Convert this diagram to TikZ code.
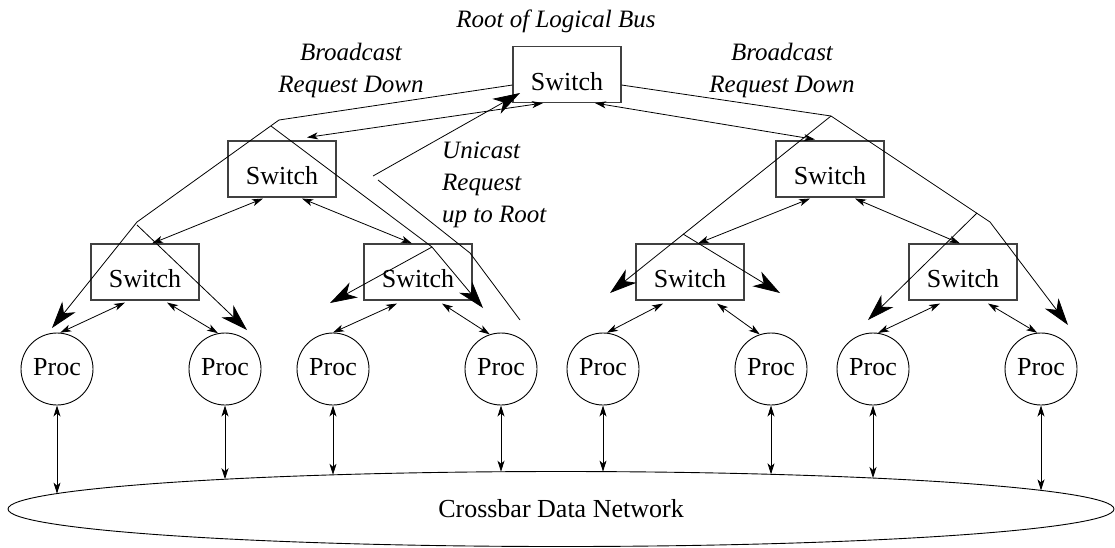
\documentclass[tikz,border=0pt]{standalone}
\usepackage{fontspec}
\setmainfont{Liberation Serif}
\usetikzlibrary{arrows.meta,calc,shapes.geometric}
\begin{document}
\begin{tikzpicture}[x=1pt,y=-1pt,
  sw/.style={draw=black!75,line width=1.1pt,minimum width=108pt,minimum height=56pt,inner sep=0pt,
    text height=31pt,text depth=0pt,font=\fontsize{26}{30}\selectfont},
  proc/.style={circle,draw,line width=0.9pt,minimum size=72pt,inner sep=0pt,
    text height=12pt,text depth=0pt,font=\fontsize{26}{30}\selectfont},
  lbl/.style={font=\fontsize{25}{32}\selectfont\itshape,inner sep=0pt},
  dbl/.style={line width=0.8pt,{Stealth[length=11pt,width=7pt,inset=3pt]}-{Stealth[length=11pt,width=7pt,inset=3pt]}},
  bcast/.style={line width=0.8pt,-{Stealth[length=27pt,width=17pt,inset=8pt]}},
  ln/.style={line width=0.8pt}
]
\useasboundingbox (0,0) rectangle (1115,547);

% switches
\node[sw] (root) at (567,74.5) {Switch};
\node[sw] (s2L) at (282,169) {Switch};
\node[sw] (s2R) at (830,169) {Switch};
\node[sw] (s3a) at (145,272) {Switch};
\node[sw] (s3b) at (418,272) {Switch};
\node[sw] (s3c) at (690,272) {Switch};
\node[sw] (s3d) at (963,272) {Switch};

% processors
\node[proc] (p1) at (57,369) {Proc};
\node[proc] (p2) at (225,369) {Proc};
\node[proc] (p3) at (333,369) {Proc};
\node[proc] (p4) at (501,369) {Proc};
\node[proc] (p5) at (603,369) {Proc};
\node[proc] (p6) at (771,369) {Proc};
\node[proc] (p7) at (873,369) {Proc};
\node[proc] (p8) at (1041,369) {Proc};

% crossbar
\node[ellipse,draw,line width=0.9pt,minimum width=1106pt,minimum height=75pt,inner sep=0pt,
  font=\fontsize{26}{30}\selectfont] (net) at (561,509) {Crossbar Data Network};

% labels
\node[lbl,anchor=base] (rootlbl) at (556,27) {Root of Logical Bus};
\node[lbl,anchor=base] (bl1) at (351,60) {Broadcast};
\node[lbl,anchor=base] (bl2) at (351,92) {Request Down};
\node[lbl,anchor=base] (br1) at (782,60) {Broadcast};
\node[lbl,anchor=base] (br2) at (782,92) {Request Down};
\node[lbl,anchor=base west] (u1) at (442,158) {Unicast};
\node[lbl,anchor=base west] (u2) at (442,190) {Request};
\node[lbl,anchor=base west] (u3) at (442,222) {up to Root};

% switch-to-switch links
\draw[dbl] ($(root.south)+(-24,0)$) -- ($(s2L.north)+(25,-3)$);
\draw[dbl] ($(root.south)+(28,0)$) -- ($(s2R.north)+(-15,-1)$);
\draw[dbl] ($(s2L.south)+(-19,1)$) -- ($(s3a.north)+(7,0)$);
\draw[dbl] ($(s2L.south)+(20,1)$) -- ($(s3b.north)+(-6,0)$);
\draw[dbl] ($(s2R.south)+(-20,1)$) -- ($(s3c.north)+(8,0)$);
\draw[dbl] ($(s2R.south)+(25,1)$) -- ($(s3d.north)+(-3,0)$);

% switch-to-proc links
\draw[dbl] ($(s3a.south)+(-20,2)$) -- (p1.85);
\draw[dbl] ($(s3a.south)+(22,2)$) -- (p2.101);
\draw[dbl] ($(s3b.south)+(-21,3)$) -- (p3.90);
\draw[dbl] ($(s3b.south)+(24,3)$) -- (p4.108);
\draw[dbl] ($(s3c.south)+(-27,3)$) -- (p5.84);
\draw[dbl] ($(s3c.south)+(27,3)$) -- (p6.108);
\draw[dbl] ($(s3d.south)+(-23,3)$) -- (p7.82);
\draw[dbl] ($(s3d.south)+(25,3)$) -- (p8.96);

% proc-to-crossbar links
\draw[dbl] (p1.south) -- ($(net.center)+(-504,-15.4)$);
\draw[dbl] (p2.south) -- ($(net.center)+(-336,-29.8)$);
\draw[dbl] (p3.south) -- ($(net.center)+(-228,-34.2)$);
\draw[dbl] (p4.south) -- ($(net.center)+(-60,-37.3)$);
\draw[dbl] (p5.south) -- ($(net.center)+(42,-37.4)$);
\draw[dbl] (p6.south) -- ($(net.center)+(210,-34.7)$);
\draw[dbl] (p7.south) -- ($(net.center)+(312,-31.0)$);
\draw[dbl] (p8.south) -- ($(net.center)+(480,-18.6)$);

% broadcast request down (left)
\coordinate (kL1) at (279,120);
\coordinate (kL2) at (137,222);
\coordinate (tL1) at (52,328);
\coordinate (bL2) at (271,126);
\coordinate (kL3) at (432,247);
\coordinate (tL2) at (483,308);
\coordinate (bL3) at (137,225);
\coordinate (tL3) at (247,330);
\coordinate (tL4) at (330,303);
\draw[bcast] ($(root.west)+(0,10.5)$) -- (kL1) -- (kL2) -- (tL1);
\draw[bcast] (bL2) -- (kL3) -- (tL2);
\draw[bcast] (bL3) -- (tL3);
\draw[bcast] (kL3) -- (tL4);

% broadcast request down (right)
\coordinate (kR1) at (831,116);
\coordinate (kR2) at (990,222);
\coordinate (tR1) at (1068,325);
\coordinate (bR2) at (977,213);
\coordinate (tR2) at (868,320);
\coordinate (tR3) at (610,293);
\coordinate (bR4) at (683,234);
\coordinate (tR4) at (780,293);
\draw[bcast] ($(root.east)+(0,10.5)$) -- (kR1) -- (kR2) -- (tR1);
\draw[bcast] (bR2) -- (tR2);
\draw[bcast] (kR1) -- (tR3);
\draw[bcast] (bR4) -- (tR4);

% unicast request up to root
\coordinate (uS) at (520,320);
\coordinate (uK1) at (470,253);
\coordinate (uK2) at (378,180);
\coordinate (uK3) at (373,176);
\coordinate (uT) at (520,93);
\draw[ln] (uS) -- (uK1) -- (uK2);
\draw[bcast] (uK3) -- (uT);
\end{tikzpicture}
\end{document}
